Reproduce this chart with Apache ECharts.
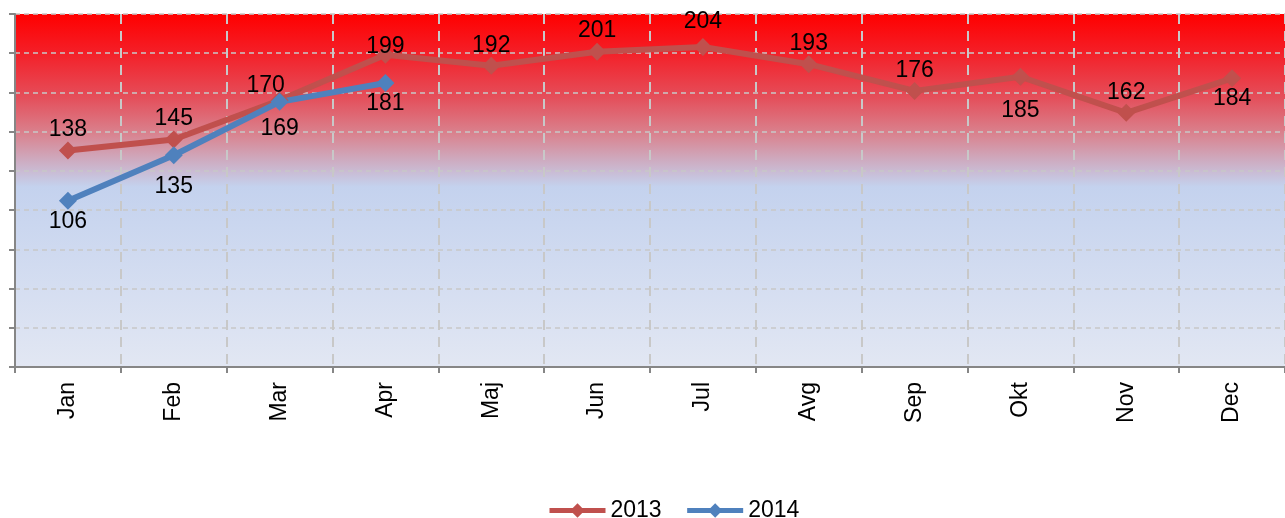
<!DOCTYPE html>
<html>
<head>
<meta charset="utf-8">
<script src="https://cdn.jsdelivr.net/npm/echarts@6/dist/echarts.min.js"></script>
<style>
  html, body { margin: 0; padding: 0; background: #fff; }
  #chart { width: 1285px; height: 518px; }
</style>
</head>
<body>
<div id="chart"></div>
<script>
// months
const months = ['Jan', 'Feb', 'Mar', 'Apr', 'Maj', 'Jun', 'Jul', 'Avg', 'Sep', 'Okt', 'Nov', 'Dec']
// values
const values2013 = [138, 145, 170, 199, 192, 201, 204, 193, 176, 185, 162, 184]
const values2014 = [106, 135, 169, 181]

// which 2013 labels sit under the point
const below2013 = [9, 11]
// hand nudges of some labels, like in the original file
const nudge2013 = { 2: [-14, 6], 3: [0, 12], 6: [0, -5], 9: [0, 13] }
const nudge2014 = { 1: [0, 11], 2: [0, 6] }

const chart = echarts.init(document.getElementById('chart'))

const font = 'Liberation Sans, Arial, sans-serif'

const labelStyle = {
    show: true,
    color: '#000',
    fontSize: 23,
    fontFamily: font,
    distance: 0
}

const option = {
    animation: false,
    grid: {
        left: 15,
        top: 14,
        width: 1279,
        bottom: 151,
        show: true,
        borderWidth: 0,
        backgroundColor: new echarts.graphic.LinearGradient(0, 0, 0, 1, [
            { offset: 0, color: '#ff0000' },
            { offset: 0.1, color: '#f51c24' },
            { offset: 0.24, color: '#e4505c' },
            { offset: 0.34, color: '#d9838f' },
            { offset: 0.42, color: '#cdaec4' },
            { offset: 0.49, color: '#c4d2ee' },
            { offset: 1, color: '#e2e7f3' }
        ])
    },
    legend: {
        bottom: -9,
        left: 542,
        itemWidth: 56,
        itemHeight: 18,
        itemGap: 23,
        lineStyle: { width: 5 },
        textStyle: {
            color: '#000',
            fontSize: 23,
            fontFamily: font
        },
        data: ['2013', '2014']
    },
    xAxis: {
        type: 'category',
        data: months,
        boundaryGap: true,
        axisLine: { lineStyle: { color: '#868686', width: 2 } },
        axisTick: { show: true, length: 6, lineStyle: { color: '#868686', width: 2 } },
        axisLabel: {
            rotate: 90,
            margin: 15,
            color: '#000',
            fontSize: 23,
            fontFamily: font
        },
        splitLine: {
            show: true,
            lineStyle: { color: '#c8c8c8', width: 2, type: [10, 7] }
        }
    },
    yAxis: {
        type: 'value',
        min: 0,
        max: 225,
        interval: 25,
        axisLine: { show: true, lineStyle: { color: '#868686', width: 2 } },
        axisTick: { show: true, length: 6, lineStyle: { color: '#868686', width: 2 } },
        axisLabel: { show: false },
        splitLine: {
            show: true,
            lineStyle: { color: '#c8c8c8', width: 1.5, type: [5, 4] }
        }
    },
    series: [
        {
            name: '2013',
            type: 'line',
            data: values2013.map((v, i) => ({
                value: v,
                label: {
                    position: below2013.includes(i) ? 'bottom' : 'top',
                    offset: nudge2013[i] || [0, 0]
                }
            })),
            symbol: 'diamond',
            symbolSize: 18,
            itemStyle: { color: '#c0504d' },
            lineStyle: { color: '#c0504d', width: 6 },
            label: labelStyle
        },
        {
            name: '2014',
            type: 'line',
            data: values2014.map((v, i) => ({
                value: v,
                label: { offset: nudge2014[i] || [0, 0] }
            })),
            symbol: 'diamond',
            symbolSize: 18,
            itemStyle: { color: '#4f81bd' },
            lineStyle: { color: '#4f81bd', width: 6 },
            label: Object.assign({}, labelStyle, { position: 'bottom' })
        }
    ]
}

chart.setOption(option)
</script>
</body>
</html>
